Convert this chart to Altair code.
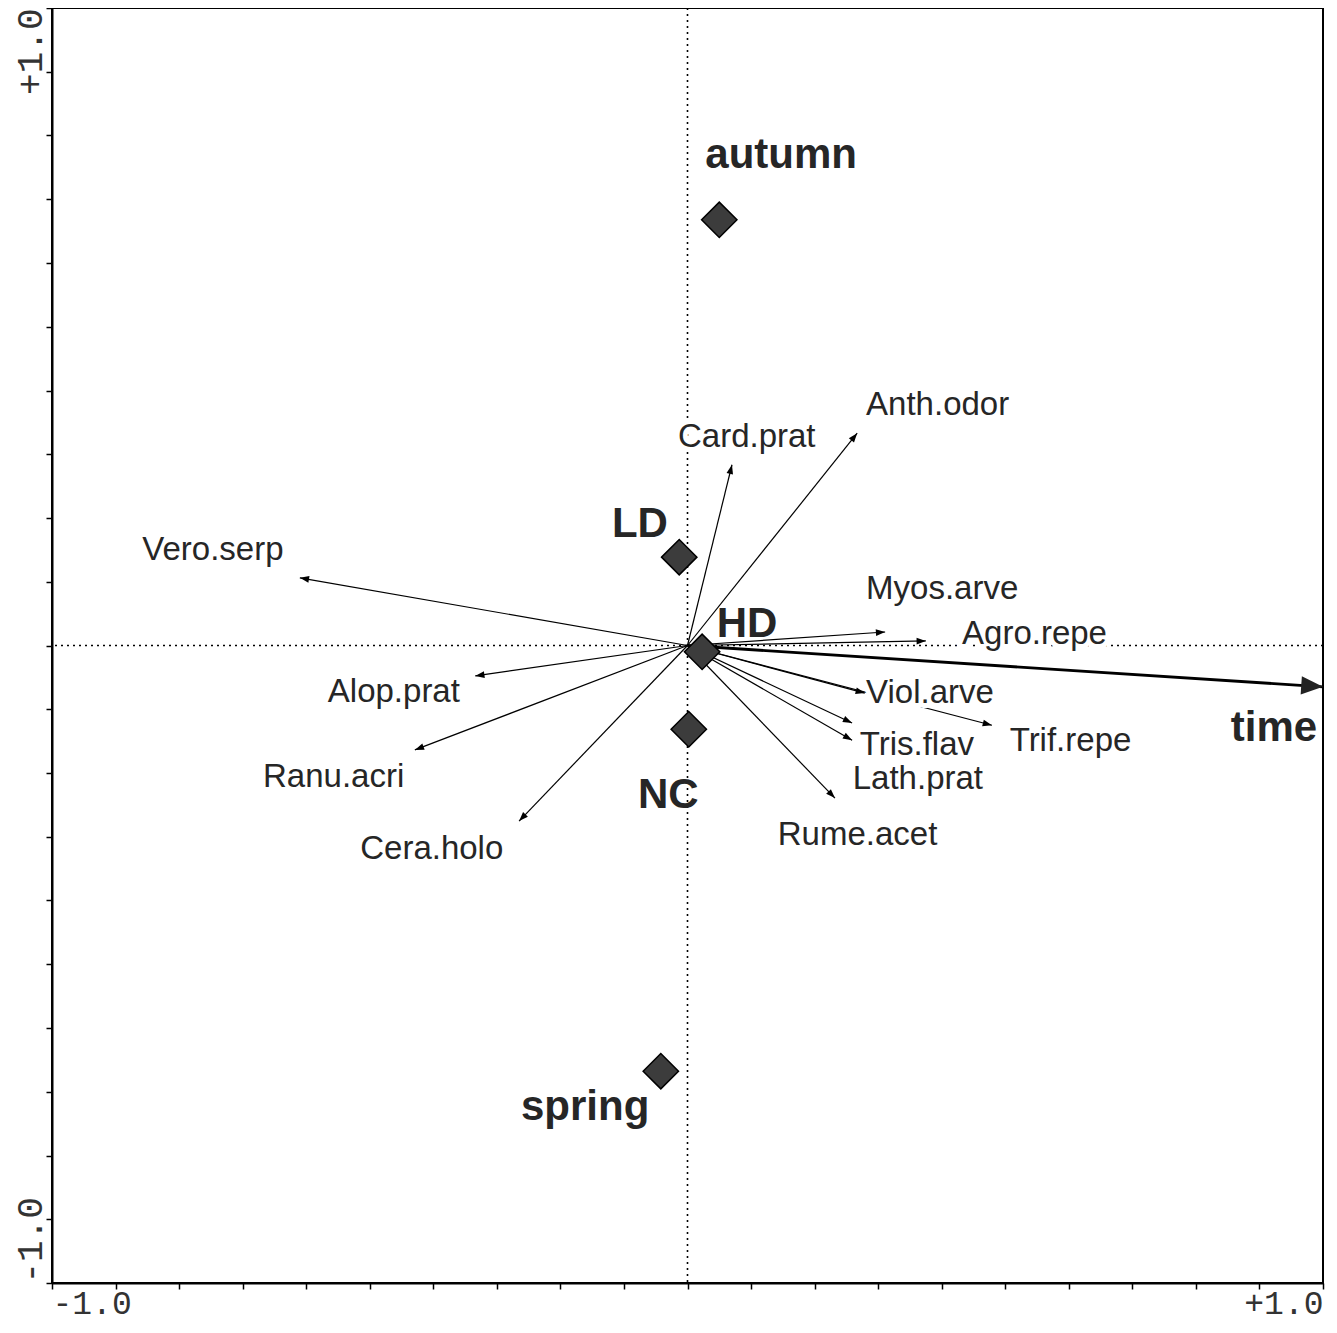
import math
import altair as alt
import pandas as pd

# ---------------- data ----------------
species = ["Vero.serp", "Card.prat", "Anth.odor", "Myos.arve", "Agro.repe",
           "Viol.arve", "Trif.repe", "Tris.flav", "Lath.prat", "Rume.acet",
           "Alop.prat", "Ranu.acri", "Cera.holo"]
species_x = [-0.610, 0.070, 0.267, 0.311, 0.375, 0.279, 0.479, 0.259, 0.259, 0.232, -0.334, -0.429, -0.265]
species_y = [0.118, 0.315, 0.370, 0.0235, 0.008, -0.083, -0.139, -0.135, -0.165, -0.266, -0.053, -0.182, -0.306]
species_label_x = [-0.858, -0.015, 0.281, 0.281, 0.432, 0.281, 0.507, 0.271, 0.260, 0.142, -0.566, -0.668, -0.515]
species_label_y = [0.166, 0.363, 0.419, 0.098, 0.020, -0.083, -0.166, -0.174, -0.232, -0.330, -0.081, -0.229, -0.355]

env_names = ["time"]
env_x = [1.0]
env_y = [-0.072]
env_label_x = [0.855]
env_label_y = [-0.143]

samples = ["autumn", "LD", "HD", "NC", "spring"]
sample_x = [0.050, -0.013, 0.023, 0.002, -0.042]
sample_y = [0.742, 0.154, -0.011, -0.146, -0.742]
sample_label_x = [0.028, -0.119, 0.046, -0.078, -0.262]
sample_label_y = [0.855, 0.211, 0.037, -0.261, -0.805]

x_ticks = [-1.0, -0.9, -0.8, -0.7, -0.6, -0.5, -0.4, -0.3, -0.2, -0.1, 0.0,
           0.1, 0.2, 0.3, 0.4, 0.5, 0.6, 0.7, 0.8, 0.9, 1.0]
y_ticks = [-1.1111, -1.0, -0.8889, -0.7778, -0.6667, -0.5556, -0.4444, -0.3333,
           -0.2222, -0.1111, 0.0, 0.1111, 0.2222, 0.3333, 0.4444, 0.5556,
           0.6667, 0.7778, 0.8889, 1.0, 1.1111]
x_domain = [-1.0, 1.0]
y_domain = [-1.1111, 1.1111]

# ---------------- layout / style ----------------
W, H = 1271, 1275
SX = W / (x_domain[1] - x_domain[0])
SY = H / (y_domain[1] - y_domain[0])
LABEL_FONT = "Liberation Sans"
AXIS_FONT = "Liberation Mono"
INK = "#262626"


def screen_angle(x, y):
    return math.degrees(math.atan2(x * SX, y * SY)) % 360


sp = pd.DataFrame({
    "name": species, "x": species_x, "y": species_y,
    "lx": species_label_x, "ly": species_label_y,
})
sp["ox"] = 0.0
sp["oy"] = 0.0
sp["ang"] = [screen_angle(a, b) for a, b in zip(species_x, species_y)]

env = pd.DataFrame({"name": env_names, "x": env_x, "y": env_y,
                    "lx": env_label_x, "ly": env_label_y})
env["ox"] = 0.0
env["oy"] = 0.0
env["ang"] = [screen_angle(a, b) for a, b in zip(env_x, env_y)]

smp = pd.DataFrame({"name": samples, "x": sample_x, "y": sample_y,
                    "lx": sample_label_x, "ly": sample_label_y})

zero = pd.DataFrame({"v": [0.0]})

xs = alt.Scale(domain=x_domain, nice=False, zero=False)
ys = alt.Scale(domain=y_domain, nice=False, zero=False)

xaxis = alt.Axis(
    values=x_ticks, title=None, grid=False, tickSize=6, tickColor="black",
    tickWidth=1.5, domainColor="black", domainWidth=2,
    labelExpr="datum.value > 0.95 ? '+1.0' : (datum.value < -0.95 ? '-1.0' : '')",
    labelFlush=True, labelOverlap=False, labelFont=AXIS_FONT, labelFontSize=33,
    labelColor="#333333", labelPadding=-2,
)
yaxis = alt.Axis(
    values=y_ticks, title=None, grid=False, tickSize=6, tickColor="black",
    tickWidth=1.5, domainColor="black", domainWidth=2,
    labelExpr="datum.value > 1.05 ? '+1.0' : (datum.value < -1.05 ? '-1.0' : '')",
    labelAngle=270, labelBaseline="alphabetic",
    labelAlign={"condition": {"test": "datum.value < 0", "value": "left"}, "value": "right"},
    labelOverlap=False, labelFont=AXIS_FONT, labelFontSize=36,
    labelColor="#333333", labelPadding=5,
)


def X(f):
    return alt.X(f, type="quantitative", scale=xs, axis=xaxis)


def Y(f):
    return alt.Y(f, type="quantitative", scale=ys, axis=yaxis)


vline = alt.Chart(zero).mark_rule(color="black", strokeWidth=1.6, strokeDash=[2, 4]).encode(x=X("v"))
hline = alt.Chart(zero).mark_rule(color="black", strokeWidth=1.6, strokeDash=[2, 4]).encode(y=Y("v"))

sp_lines = alt.Chart(sp).mark_rule(color="black", strokeWidth=1.2).encode(
    x=X("ox"), y=Y("oy"), x2="x", y2="y")
env_lines = alt.Chart(env).mark_rule(color="black", strokeWidth=2.8).encode(
    x=X("ox"), y=Y("oy"), x2="x", y2="y")

halo_sp = alt.Chart(sp).mark_text(
    align="left", baseline="middle", font=LABEL_FONT, fontSize=33,
    fill="white", stroke="white", strokeWidth=10, strokeJoin="round",
).encode(x=X("lx"), y=Y("ly"), text="name")
halo_env = alt.Chart(env).mark_text(
    align="left", baseline="middle", font=LABEL_FONT, fontSize=42, fontWeight="bold",
    fill="white", stroke="white", strokeWidth=8, strokeJoin="round",
).encode(x=X("lx"), y=Y("ly"), text="name")

head_shape = "M0,0L-0.36,1L0.36,1Z"
sp_heads = alt.Chart(sp).mark_point(
    shape=head_shape, size=340, filled=True, color="black", opacity=1,
).encode(x=X("x"), y=Y("y"), angle=alt.Angle("ang:Q", scale=None))
env_heads = alt.Chart(env).mark_point(
    shape="M0,0L-0.42,1L0.42,1Z", size=1900, filled=True, color="#222222", opacity=1,
).encode(x=X("x"), y=Y("y"), angle=alt.Angle("ang:Q", scale=None))

diamonds = alt.Chart(smp).mark_point(
    shape="diamond", size=1250, filled=True, fill="#3c3c3c", stroke="black",
    strokeWidth=1.5, opacity=1,
).encode(x=X("x"), y=Y("y"))

sp_text = alt.Chart(sp).mark_text(
    align="left", baseline="middle", font=LABEL_FONT, fontSize=33, color=INK,
).encode(x=X("lx"), y=Y("ly"), text="name")
env_text = alt.Chart(env).mark_text(
    align="left", baseline="middle", font=LABEL_FONT, fontSize=42, fontWeight="bold", color=INK,
).encode(x=X("lx"), y=Y("ly"), text="name")
smp_text = alt.Chart(smp).mark_text(
    align="left", baseline="middle", font=LABEL_FONT, fontSize=42, fontWeight="bold", color=INK,
).encode(x=X("lx"), y=Y("ly"), text="name")

chart = alt.layer(
    vline, hline, sp_lines, env_lines, halo_sp, halo_env,
    sp_heads, env_heads, diamonds, sp_text, env_text, smp_text,
).properties(
    width=W, height=H,
    autosize=alt.AutoSizeParams(type="none"),
    padding={"left": 44, "top": 0, "right": 4, "bottom": 42},
    background="white",
).configure_view(
    stroke="black", strokeWidth=2,
)

chart.save("out.html", embed_options={"renderer": "svg", "actions": False})
